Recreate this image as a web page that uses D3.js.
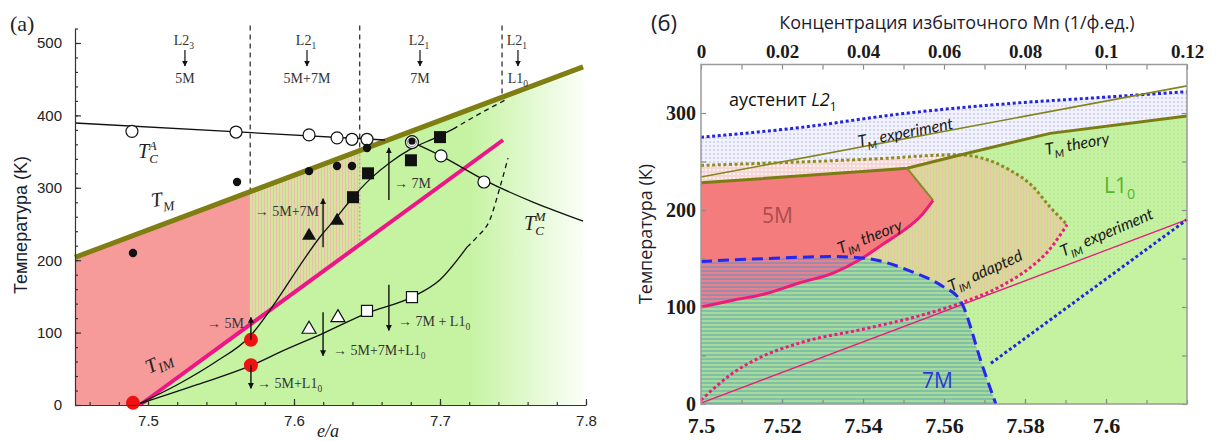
<!DOCTYPE html>
<html><head><meta charset="utf-8">
<script src="https://cdn.jsdelivr.net/npm/d3@7"></script>
<style>body{margin:0;background:#fff} svg{display:block}</style>
</head><body>
<script>
// ================= Panel (a): temperature vs e/a =================
const tmLineA = [[7.45, 204], [7.798, 467]];
const timLineA = [[7.4945, 0], [7.7432, 366]];
const tcAustenite = [[7.45, 389.5], [7.6623, 366]];
const tcMartensite = [[7.6808, 363], [7.7007, 344], [7.7301, 311], [7.798, 254]];
const upperSolid = [[7.4932,1],[7.5219,30],[7.5459,59],[7.5699,95],[7.587,141],[7.6041,193],[7.6178,232],[7.6295,260],[7.6404,287],[7.6521,312],[7.6658,335],[7.6795,353],[7.6979,370],[7.7089,381]];
const upperDashed = [[7.7089,381],[7.726,401],[7.7445,421]];
const lowerSolid = [[7.4932,1],[7.5336,28],[7.5712,55],[7.5904,73],[7.6199,99],[7.65,127],[7.6808,149],[7.70,173],[7.7185,218]];
const lowerDashed = [[7.7185,218],[7.7253,232],[7.7342,256],[7.7411,301],[7.7466,341]];
const openCircles = [[7.489,378],[7.5603,377],[7.6103,373],[7.6295,369],[7.6397,367],[7.65,367],[7.7007,344],[7.7301,308]];
const blackDots = [[7.4897,210],[7.561,308],[7.6103,323],[7.6295,330],[7.6397,330],[7.65,355]];
const ringedPoints = [[7.6808,363]];
const filledSquares = [[7.6404,287],[7.6507,320],[7.6801,338],[7.70,370]];
const filledTriangles = [[7.6103,235],[7.6295,256]];
const openTriangles = [[7.6103,106],[7.6301,122]];
const openSquares = [[7.65,130],[7.6808,149]];
const redCircles = [[7.4897,3],[7.5705,90],[7.5705,55]];
const phaseBoundsA = [7.57, 7.645, 7.7425];
const yTicksA = [0, 100, 200, 300, 400, 500];
const xTicksA = [7.5, 7.6, 7.7, 7.8];
const phaseHeads = [
  {top: "L2_3", bottom: "5M"},
  {top: "L2_1", bottom: "5M+7M"},
  {top: "L2_1", bottom: "7M"},
  {top: "L2_1", bottom: "L1_0"}
];
const transitionArrows = [
  {x: 7.5705, from: 90, to: 121, text: "→ 5M"},
  {x: 7.5705, from: 55, to: 23, text: "→ 5M+L1_0"},
  {x: 7.6199, from: 218, to: 285, text: "→ 5M+7M"},
  {x: 7.6650, from: 283, to: 355, text: "→ 7M"},
  {x: 7.6650, from: 166, to: 103, text: "→ 7M + L1_0"},
  {x: 7.6199, from: 128, to: 68, text: "→ 5M+7M+L1_0"}
];

// ================= Panel (б): temperature vs e/a, excess Mn =================
const blueTop = [[7.5,275],[7.5244,285],[7.5491,299],[7.5738,309],[7.5985,316],[7.62,322]];
const tmExperiment = [[7.5,234],[7.62,328]];
const oliveDotted = [[7.5,246],[7.5444,253],[7.5632,257],[7.5689,254],[7.5763,241],[7.582,224],[7.5862,203],[7.5904,185]];
const tmTheory = [[7.5,228],[7.5442,241],[7.5509,243],[7.5632,256],[7.5862,279],[7.62,297]];
const timTheory = [[7.5,100],[7.5079,107],[7.5163,114],[7.5244,125],[7.5326,135],[7.5393,149],[7.545,165],[7.5504,180],[7.5541,193],[7.5573,210]];
const edge5M = [[7.5509,243],[7.5573,210]];
const bound7M = [[7.5,147],[7.5163,150],[7.5326,152],[7.541,150],[7.5523,136],[7.5598,121],[7.564,107],[7.5696,38],[7.5728,0]];
const timAdapted = [[7.5,4],[7.5079,32],[7.5146,48],[7.5244,63],[7.541,78],[7.554,91],[7.564,104],[7.5738,121],[7.582,143],[7.5854,156],[7.5904,185]];
const timExperiment = [[7.5,1],[7.62,190]];
const blueLower = [[7.5716,42],[7.62,190]];
const xTicksB = [7.5, 7.52, 7.54, 7.56, 7.58, 7.6];
const xTicksTop = [0, 0.02, 0.04, 0.06, 0.08, 0.1, 0.12];
const yTicksB = [0, 100, 200, 300];

const W = 1216, H = 441;
const svg = d3.select("body").append("svg").attr("width", W).attr("height", H);
const defs = svg.append("defs");

function pattern(id, w, h, base, draw) {
  const p = defs.append("pattern").attr("id", id).attr("patternUnits", "userSpaceOnUse")
    .attr("width", w).attr("height", h);
  p.append("rect").attr("width", w).attr("height", h).attr("fill", base);
  draw(p);
}
pattern("stippleA", 3, 3, "#d3e59d", p => p.append("rect").attr("width", 1).attr("height", 3).attr("fill", "#efbdaf"));
pattern("stripes7M", 4, 4, "#a8da9b", p => p.append("rect").attr("y", 2).attr("width", 4).attr("height", 2).attr("fill", "#80c0a6"));
pattern("stripesMix", 4, 4, "#e8828c", p => p.append("rect").attr("y", 2).attr("width", 4).attr("height", 2).attr("fill", "#a088a8"));
pattern("tanHatch", 3, 3, "#d6da96", p => p.append("rect").attr("width", 1).attr("height", 3).attr("fill", "#e6c8a6"));
pattern("lavDots", 4, 4, "#f2f2fc", p => p.append("circle").attr("cx", 2).attr("cy", 2).attr("r", 1).attr("fill", "#cacaf2"));
pattern("pinkDots", 4, 4, "#f9d6d6", p => p.append("circle").attr("cx", 2).attr("cy", 2).attr("r", 1).attr("fill", "#ffffff"));
pattern("greenDots", 4, 4, "#c4f2a0", p => p.append("circle").attr("cx", 2).attr("cy", 2).attr("r", 0.8).attr("fill", "#b0e294"));

const gradA = defs.append("linearGradient").attr("id", "fadeA").attr("gradientUnits", "userSpaceOnUse")
  .attr("x1", 75).attr("x2", 592).attr("y1", 0).attr("y2", 0);
gradA.append("stop").attr("offset", 0).attr("stop-color", "#c5f3a1");
gradA.append("stop").attr("offset", 0.76).attr("stop-color", "#c5f3a1");
gradA.append("stop").attr("offset", 1).attr("stop-color", "#ffffff");

defs.append("marker").attr("id", "head").attr("viewBox", "0 0 10 10").attr("refX", 9).attr("refY", 5)
  .attr("markerUnits", "userSpaceOnUse").attr("markerWidth", 6).attr("markerHeight", 8).attr("orient", "auto")
  .append("path").attr("d", "M0,0L10,5L0,10Z").attr("fill", "#111");

// text with _x subscripts and ^x superscripts
function rich(sel, str, fs) {
  const parts = [];
  for (let i = 0; i < str.length; i++) {
    const c = str[i];
    if ((c === "_" || c === "^") && i + 1 < str.length) { parts.push({t: str[i + 1], sub: c === "_", sup: c === "^"}); i++; }
    else if (parts.length && !parts[parts.length - 1].sub && !parts[parts.length - 1].sup) parts[parts.length - 1].t += c;
    else parts.push({t: c});
  }
  let cur = 0;
  parts.forEach(p => {
    const off = p.sub ? fs * 0.3 : p.sup ? -fs * 0.42 : 0;
    const ts = sel.append("tspan").text(p.t).attr("dy", off - cur);
    if (p.sub || p.sup) ts.attr("font-size", fs * 0.68);
    cur = off;
  });
  return sel;
}

// ---------- panel (a) ----------
const xA = d3.scaleLinear().domain([7.45, 7.8]).range([75, 586]);
const yA = d3.scaleLinear().domain([0, 520]).range([405, 28.5]);
const tmA = d3.scaleLinear().domain(tmLineA.map(d => d[0])).range(tmLineA.map(d => d[1]));
const timA = d3.scaleLinear().domain(timLineA.map(d => d[0])).range(timLineA.map(d => d[1]));
const lineA = d3.line().x(d => xA(d[0])).y(d => yA(d[1]));
const curveA = d3.line().x(d => xA(d[0])).y(d => yA(d[1])).curve(d3.curveMonotoneX);
const gA = svg.append("g");

const [b0, b1, b2] = phaseBoundsA;
gA.append("path").attr("d", lineA([[tmLineA[0][0], 0], tmLineA[0], tmLineA[1], [tmLineA[1][0], 0]]) + "Z").attr("fill", "url(#fadeA)");
gA.append("path").attr("d", lineA([[7.45, 0], tmLineA[0], [b0, tmA(b0)], [b0, timA(b0)], timLineA[0]]) + "Z").attr("fill", "#f69a9a");
gA.append("path").attr("d", lineA([[b0, timA(b0)], [b0, tmA(b0)], [b1, tmA(b1)], [b1, timA(b1)]]) + "Z").attr("fill", "url(#stippleA)");

phaseBoundsA.forEach(b => {
  gA.append("path").attr("d", lineA([[b, 524], [b, tmA(b)]])).attr("stroke", "#333").attr("stroke-width", 1.3)
    .attr("stroke-dasharray", "5,4").attr("fill", "none");
});
gA.append("path").attr("d", lineA([[b1, tmA(b1)], [b1, timA(b1)]])).attr("stroke", "#f48aa8").attr("stroke-width", 1.6)
  .attr("stroke-dasharray", "2,2").attr("fill", "none");

gA.append("path").attr("d", lineA(tmLineA)).attr("stroke", "#7e7e12").attr("stroke-width", 5).attr("fill", "none");
gA.append("path").attr("d", lineA(timLineA)).attr("stroke", "#ee1589").attr("stroke-width", 4).attr("fill", "none");
[[tcAustenite, lineA, null], [tcMartensite, curveA, null], [upperSolid, curveA, null], [upperDashed, curveA, "5,4"],
 [lowerSolid, curveA, null], [lowerDashed, curveA, "5,4"]].forEach(([d, gen, dash]) => {
  gA.append("path").attr("d", gen(d)).attr("stroke", "#111").attr("stroke-width", 1.3).attr("fill", "none")
    .attr("stroke-dasharray", dash);
});

// markers
gA.selectAll(".oc").data(openCircles).join("circle").attr("cx", d => xA(d[0])).attr("cy", d => yA(d[1]))
  .attr("r", 6).attr("fill", "#fff").attr("stroke", "#111").attr("stroke-width", 1.2);
gA.selectAll(".rp").data(ringedPoints).join("g").each(function (d) {
  const s = d3.select(this);
  s.append("circle").attr("cx", xA(d[0])).attr("cy", yA(d[1])).attr("r", 6.5).attr("fill", "#fff").attr("stroke", "#111").attr("stroke-width", 1.2);
  s.append("circle").attr("cx", xA(d[0])).attr("cy", yA(d[1])).attr("r", 4.5).attr("fill", "none").attr("stroke", "#888").attr("stroke-width", 1);
  s.append("circle").attr("cx", xA(d[0])).attr("cy", yA(d[1]) - 1).attr("r", 3.5).attr("fill", "#111");
});
gA.selectAll(".bd").data(blackDots).join("circle").attr("cx", d => xA(d[0])).attr("cy", d => yA(d[1]))
  .attr("r", 4.2).attr("fill", "#111");
gA.selectAll(".fs").data(filledSquares).join("rect").attr("x", d => xA(d[0]) - 6).attr("y", d => yA(d[1]) - 6)
  .attr("width", 12).attr("height", 12).attr("fill", "#111");
gA.selectAll(".os").data(openSquares).join("rect").attr("x", d => xA(d[0]) - 5.5).attr("y", d => yA(d[1]) - 5.5)
  .attr("width", 11).attr("height", 11).attr("fill", "#fff").attr("stroke", "#111").attr("stroke-width", 1.2);
const tri = d => `M${xA(d[0])},${yA(d[1]) - 7}L${xA(d[0]) + 7},${yA(d[1]) + 5}L${xA(d[0]) - 7},${yA(d[1]) + 5}Z`;
gA.selectAll(".ft").data(filledTriangles).join("path").attr("d", tri).attr("fill", "#111");
gA.selectAll(".ot").data(openTriangles).join("path").attr("d", tri).attr("fill", "#fff").attr("stroke", "#111").attr("stroke-width", 1.2);
gA.selectAll(".rc").data(redCircles).join("circle").attr("cx", d => xA(d[0])).attr("cy", d => yA(d[1]))
  .attr("r", 7).attr("fill", "#ee1111");

// transition arrows with labels
const arrowText = [
  {x: 244, y: 328, anchor: "end"}, {x: 257, y: 388, anchor: "start"}, {x: 319, y: 216, anchor: "end"},
  {x: 394, y: 188, anchor: "start"}, {x: 398, y: 326, anchor: "start"}, {x: 333, y: 355, anchor: "start"}
];
transitionArrows.forEach((a, i) => {
  gA.append("line").attr("x1", xA(a.x)).attr("x2", xA(a.x)).attr("y1", yA(a.from)).attr("y2", yA(a.to))
    .attr("stroke", "#111").attr("stroke-width", 1.4).attr("marker-end", "url(#head)");
  const t = gA.append("text").attr("x", arrowText[i].x).attr("y", arrowText[i].y).attr("text-anchor", arrowText[i].anchor)
    .attr("font-family", "Liberation Serif").attr("font-size", 14).attr("fill", "#333");
  rich(t, a.text, 14);
});

// phase headings above the diagram
const headX = [7.5253, 7.6089, 7.6863, 7.7534];
phaseHeads.forEach((h, i) => {
  const x = xA(headX[i]);
  rich(gA.append("text").attr("x", x - 1).attr("y", 45).attr("text-anchor", "middle").attr("font-family", "Liberation Serif")
    .attr("font-size", 14).attr("fill", "#333"), h.top, 14);
  gA.append("line").attr("x1", x).attr("x2", x).attr("y1", 50).attr("y2", 66).attr("stroke", "#222").attr("stroke-width", 1.3)
    .attr("marker-end", "url(#head)");
  rich(gA.append("text").attr("x", x).attr("y", 83).attr("text-anchor", "middle").attr("font-family", "Liberation Serif")
    .attr("font-size", 14).attr("fill", "#333"), h.bottom, 14);
});

// curve names
function serifLabel(x, y, rot) {
  return gA.append("text").attr("transform", `translate(${x},${y}) rotate(${rot})`)
    .attr("font-family", "Liberation Serif").attr("font-style", "italic").attr("font-size", 20).attr("fill", "#222");
}
{
  const t = serifLabel(138, 158, 0);
  t.append("tspan").text("T");
  t.append("tspan").text("C").attr("font-size", 13).attr("dy", 5);
  t.append("tspan").text("A").attr("font-size", 13).attr("dx", -9).attr("dy", -13);
  rich(serifLabel(152, 207, -8), "T_M", 20);
  const im = serifLabel(149, 374, -25);
  im.append("tspan").text("T");
  im.append("tspan").text("IM").attr("font-size", 14).attr("dy", 4);
  const cm = serifLabel(524, 230, 0);
  cm.append("tspan").text("T");
  cm.append("tspan").text("C").attr("font-size", 13).attr("dy", 5);
  cm.append("tspan").text("M").attr("font-size", 13).attr("dx", -9).attr("dy", -14);
}

// axes (a)
const axA = svg.append("g");
axA.append("g").attr("transform", "translate(75,0)")
  .call(d3.axisLeft(yA).tickValues(d3.range(0, 521, 20)).tickSizeInner(-3).tickSizeOuter(0).tickFormat(""));
axA.append("g").attr("transform", "translate(75,0)")
  .call(d3.axisLeft(yA).tickValues(yTicksA).tickSizeInner(-6).tickSizeOuter(0).tickPadding(13))
  .call(g => g.select(".domain").remove());
axA.append("g").attr("transform", "translate(0,405)")
  .call(d3.axisBottom(xA).tickValues(d3.range(0, 18).map(i => 7.46 + i * 0.02)).tickSizeInner(-3).tickSizeOuter(0).tickFormat(""));
axA.append("g").attr("transform", "translate(0,405)")
  .call(d3.axisBottom(xA).tickValues(xTicksA).tickSizeInner(-6).tickSizeOuter(0).tickPadding(10).tickFormat(d3.format(".1f")))
  .call(g => g.select(".domain").remove());
axA.selectAll("path,line").attr("stroke", "#333").attr("stroke-width", 1.2);
axA.selectAll("text").attr("font-family", "Liberation Sans").attr("font-size", 15).attr("fill", "#222");

svg.append("text").attr("transform", "translate(27,225) rotate(-90)").attr("text-anchor", "middle")
  .attr("font-family", "Liberation Sans").attr("font-size", 18).attr("fill", "#1c1c30").text("Температура (K)");
svg.append("text").attr("x", 328).attr("y", 437).attr("text-anchor", "middle").attr("font-family", "Liberation Serif")
  .attr("font-style", "italic").attr("font-size", 18).attr("fill", "#222").text("e/a");
svg.append("text").attr("x", 10).attr("y", 31).attr("font-family", "Liberation Serif").attr("font-size", 22).attr("fill", "#222").text("(a)");

// ---------- panel (б) ----------
const xB = d3.scaleLinear().domain([7.5, 7.62]).range([701, 1187]);
const xC = d3.scaleLinear().domain([0, 0.12]).range([701, 1187]);
const yB = d3.scaleLinear().domain([0, 350]).range([404, 64.5]);
const linB = d3.line().x(d => xB(d[0])).y(d => yB(d[1]));
const crvB = d3.line().x(d => xB(d[0])).y(d => yB(d[1])).curve(d3.curveMonotoneX);
const joinPaths = (...segs) => segs.map((s, i) => i ? s.replace(/^M/, "L") : s).join("") + "Z";
const gB = svg.append("g");

const tmTo = x => tmTheory.filter(d => d[0] <= x);
gB.append("path").attr("d", joinPaths(crvB(blueTop), linB(tmTheory.slice().reverse()))).attr("fill", "url(#lavDots)");
gB.append("path").attr("d", joinPaths(linB(oliveDotted.slice(0, 3)), linB(tmTo(7.5632).reverse()))).attr("fill", "url(#pinkDots)");
gB.append("path").attr("d", joinPaths(linB(tmTheory), linB([[7.62, 0], [7.5, 0]]))).attr("fill", "#c4f2a0");
gB.append("path").attr("d", joinPaths(linB(tmTheory), linB(blueLower.slice().reverse()), linB([[7.5728, 0], [7.5, 0]])))
  .attr("fill", "url(#greenDots)");
gB.append("path").attr("d", joinPaths(linB(tmTo(7.5632)), crvB(oliveDotted.slice(2)), crvB(timAdapted.slice().reverse())))
  .attr("fill", "url(#tanHatch)");
const path7M = joinPaths(crvB(bound7M), linB([[7.5, 0]]));
const path5M = joinPaths(linB(tmTo(7.5509)), linB(edge5M), crvB(timTheory.slice().reverse()));
gB.append("path").attr("d", path7M).attr("fill", "url(#stripes7M)");
gB.append("path").attr("d", path5M).attr("fill", "#f47c7c");
defs.append("clipPath").attr("id", "clip5M").append("path").attr("d", path5M);
gB.append("path").attr("d", path7M).attr("fill", "url(#stripesMix)").attr("clip-path", "url(#clip5M)");

// boundary lines
const stroke = (d, gen, color, w, dash) => gB.append("path").attr("d", gen(d)).attr("fill", "none")
  .attr("stroke", color).attr("stroke-width", w).attr("stroke-dasharray", dash || null);
stroke(blueTop, crvB, "#2424e0", 3, "3,2.6");
stroke(tmExperiment, linB, "#85851c", 1.6);
stroke(oliveDotted, crvB, "#8c8c22", 3, "3,2.6");
stroke(tmTheory, linB, "#7c7c14", 3);
stroke(edge5M, linB, "#8a8a2a", 2);
stroke(timExperiment, linB, "#ec1b7c", 1.3);
stroke(timAdapted, crvB, "#ec1b7c", 3, "3,2.6");
stroke(timTheory, crvB, "#ec1b7c", 3);
stroke(bound7M, crvB, "#2626f0", 3, "11,6");
stroke(blueLower, linB, "#2424e0", 3, "3,2.6");

// region and curve names
const sansLbl = (x, y, rot, size, color, italic) => gB.append("text")
  .attr("transform", `translate(${x},${y}) rotate(${rot})`).attr("font-family", "Lato, 'Open Sans', sans-serif")
  .attr("font-size", size).attr("fill", color).attr("font-style", italic ? "italic" : "normal");
rich(sansLbl(859, 147, -11, 16, "#1a1a1a", true), "T_M experiment", 16);
rich(sansLbl(1046, 155, -10, 16, "#1a1a1a", true), "T_M theory", 16);
rich(sansLbl(840, 254, -21, 16, "#1a1a1a", true), "T_I_M theory", 16);
rich(sansLbl(951, 292, -24, 16, "#1a1a1a", true), "T_I_M adapted", 16);
rich(sansLbl(1063, 257, -23, 16, "#1a1a1a", true), "T_I_M experiment", 16);
{
  const a = gB.append("text").attr("x", 729).attr("y", 106).attr("font-family", "'Open Sans', sans-serif").attr("font-size", 18).attr("fill", "#111");
  a.append("tspan").text("аустенит ");
  a.append("tspan").text("L2").attr("font-style", "italic");
  a.append("tspan").text("1").attr("font-size", 12).attr("dy", 5);
}
gB.append("text").attr("x", 762).attr("y", 223).attr("font-family", "'Open Sans', sans-serif").attr("font-size", 21).attr("fill", "#a84e4e").text("5M");
gB.append("text").attr("x", 922).attr("y", 388).attr("font-family", "'Open Sans', sans-serif").attr("font-size", 21).attr("fill", "#2a38d8").text("7M");
rich(gB.append("text").attr("x", 1104).attr("y", 193).attr("font-family", "'Open Sans', sans-serif").attr("font-size", 21).attr("fill", "#55b52a"), "L1_0", 21);

// frame and axes (б)
const axB = svg.append("g");
const fmt = d => String(+d.toFixed(2));
const styleText = size => g => g.selectAll("text").attr("font-family", "Liberation Serif").attr("font-weight", "bold")
  .attr("font-size", size).attr("fill", "#1a1a1a");
axB.append("g").attr("transform", "translate(0,404)")
  .call(d3.axisBottom(xB).tickValues(d3.range(0, 13).map(i => 7.5 + i * 0.01)).tickSizeInner(-4).tickSizeOuter(0).tickFormat(""));
axB.append("g").attr("transform", "translate(0,404)")
  .call(d3.axisBottom(xB).tickValues(xTicksB).tickSizeInner(-5).tickSizeOuter(0).tickPadding(13).tickFormat(fmt))
  .call(styleText(22));
axB.append("g").attr("transform", "translate(0,64.5)")
  .call(d3.axisTop(xC).tickValues(d3.range(0, 13).map(i => i * 0.01)).tickSizeInner(-5).tickSizeOuter(0).tickFormat(""));
axB.append("g").attr("transform", "translate(0,64.5)")
  .call(d3.axisTop(xC).tickValues(xTicksTop).tickSizeInner(0).tickSizeOuter(0).tickPadding(7).tickFormat(fmt))
  .call(styleText(19));
axB.append("g").attr("transform", "translate(701,0)")
  .call(d3.axisLeft(yB).tickValues([0, 50, 100, 150, 200, 250, 300]).tickSizeInner(-5).tickSizeOuter(0).tickFormat(""));
axB.append("g").attr("transform", "translate(701,0)")
  .call(d3.axisLeft(yB).tickValues(yTicksB).tickSizeInner(0).tickSizeOuter(0).tickPadding(5))
  .call(styleText(20));
axB.append("g").attr("transform", "translate(1187,0)")
  .call(d3.axisRight(yB).tickValues([0, 50, 100, 150, 200, 250, 300]).tickSizeInner(-5).tickSizeOuter(0).tickFormat(""));
axB.selectAll(".domain").remove();
axB.selectAll("line").attr("stroke", "#8a8a8a").attr("stroke-width", 1.2);
svg.append("rect").attr("x", 701).attr("y", 64.5).attr("width", 486).attr("height", 339.5)
  .attr("fill", "none").attr("stroke", "#9a9a9a").attr("stroke-width", 1.5);

svg.append("text").attr("transform", "translate(652,234) rotate(-90)").attr("text-anchor", "middle")
  .attr("font-family", "'Open Sans', sans-serif").attr("font-size", 18).attr("fill", "#1c1c30").text("Температура (К)");
svg.append("text").attr("x", 957).attr("y", 29).attr("text-anchor", "middle")
  .attr("font-family", "'Open Sans', sans-serif").attr("font-size", 18).attr("fill", "#1c1c30")
  .text("Концентрация избыточного Mn (1/ф.ед.)");
svg.append("text").attr("x", 651).attr("y", 31).attr("font-family", "'Open Sans', sans-serif").attr("font-size", 22).attr("fill", "#1c1c30").text("(б)");
</script>
</body></html>
